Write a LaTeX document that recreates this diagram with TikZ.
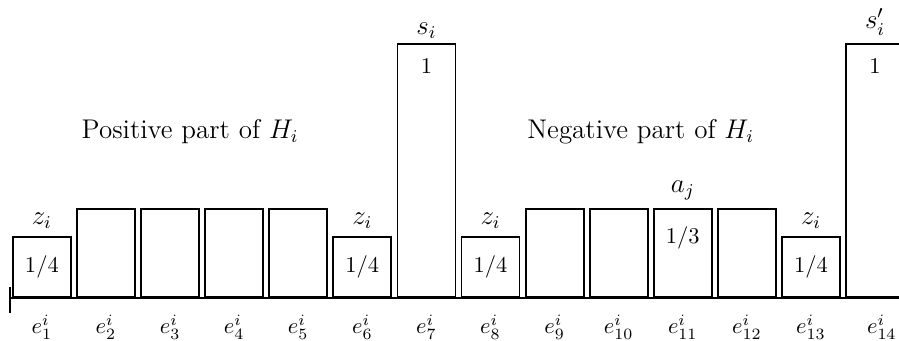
\documentclass[tikz,border=0pt]{standalone}
\usetikzlibrary{positioning}

\begin{document}
\begin{tikzpicture}[
        bar/.style={draw, thick, rectangle, inner sep=0pt, minimum width=0.905cm, anchor=south west},
        lbl/.style={font=\large},
        val/.style={font=\normalsize}
    ]
    \useasboundingbox (-0.187,-0.671) rectangle (13.84,4.649);

    % --- barras: numero / altura ---
    \foreach \k/\h in {1/0.936, 2/1.373, 3/1.373, 4/1.373, 5/1.373, 6/0.936, 7/3.95,
                       8/0.936, 9/1.373, 10/1.373, 11/1.373, 12/1.373, 13/0.936, 14/3.95}
        \node[bar, minimum height=\h cm] (b\k) at (\k-1,0) {};

    % --- eje ---
    \coordinate (axL) at (-0.03,0);
    \coordinate (axR) at (13.9,0);
    \coordinate (tickT) at (-0.03,0.17);
    \coordinate (tickB) at (-0.03,-0.23);
    \draw[very thick] (axL) -- (axR);
    \draw[semithick] (tickT) -- (tickB);

    % etiquetas bajo el eje
    \foreach \k in {1,...,13}
        \node[below=4pt of b\k.south] (e\k) {$e_{\k}^i$};
    \node[below=4pt of b14.south, xshift=3pt] (e14) {$e_{14}^i$};

    % --- etiquetas encima ---
    \node[lbl, above=0pt of b1] (z1) {$z_i$};
    \node[lbl, above=0pt of b6] (z6) {$z_i$};
    \node[lbl, above=0pt of b8] (z8) {$z_i$};
    \node[lbl, above=0pt of b13] (z13) {$z_i$};
    \node[lbl, above=-1.5pt of b7] (si) {$s_i$};
    \node[lbl, above=0pt of b14] (sip) {$s'_i$};
    \node[lbl, above=0pt of b11] (aj) {$a_j$};

    % valores dentro de las barras
    \node[val] (v1) at (b1) {1/4};
    \node[val] (v6) at (b6) {1/4};
    \node[val] (v8) at (b8) {1/4};
    \node[val] (v13) at (b13) {1/4};
    \node[val, below=3.4pt of b7.north] (v7) {1};
    \node[val, below=3.4pt of b14.north] (v14) {1};
    \node[val, below=4.6pt of b11.north] (v11) {1/3};

    % --- textos ---
    \node[lbl] (pos) at (2.78,2.59) {Positive part of $H_i$};
    \node[lbl] (neg) at (9.81,2.6) {Negative part of $H_i$};
\end{tikzpicture}
\end{document}
